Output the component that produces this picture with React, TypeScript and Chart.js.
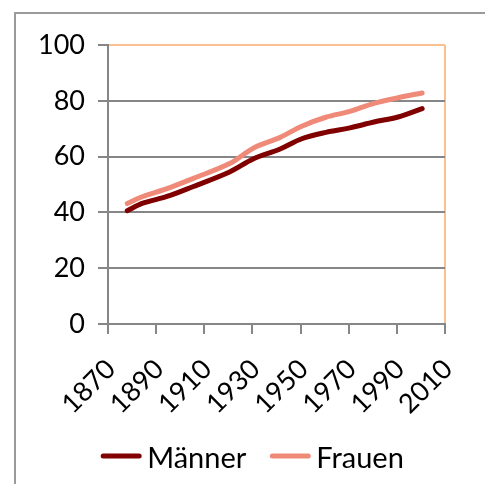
import { useEffect, useRef } from "react";
import { Chart, registerables } from "chart.js";

Chart.register(...registerables);

// Data
const years = [1878, 1884.5, 1894.5, 1905.5, 1920.5, 1930.5, 1941.5, 1950.5, 1960.5, 1970.5, 1980.5, 1990.5, 2000.5];
const maenner = [40.6, 43.3, 45.7, 49.3, 54.5, 59.2, 62.7, 66.4, 68.7, 70.3, 72.4, 74.2, 77.2];
const frauen = [43.2, 45.7, 48.5, 52.2, 57.5, 63.1, 66.9, 70.9, 74.1, 76.2, 79.1, 81.1, 82.8];
const seriesLabels = ["Männer", "Frauen"];
const xTicks = [1870, 1890, 1910, 1930, 1950, 1970, 1990, 2010];
const yTicks = [0, 20, 40, 60, 80, 100];

const FONT = "Lato, 'Open Sans', sans-serif";
const TICK_SIZE = 27;
const LEGEND_SIZE = 29;
const AXIS_GRAY = "#868686";
const PLOT_ORANGE = "#FAC090";

export default function App() {
  const ref = useRef<HTMLCanvasElement>(null);

  useEffect(() => {
    document.body.style.margin = "0";
    const canvas = ref.current;
    if (!canvas) return;

    const outerBorder = {
      id: "outerBorder",
      beforeDraw(chart: any) {
        const ctx = chart.ctx;
        ctx.save();
        ctx.strokeStyle = "#9a9a9a";
        ctx.lineWidth = 2;
        ctx.beginPath();
        ctx.moveTo(15, 500);
        ctx.lineTo(15, 13);
        ctx.lineTo(500, 13);
        ctx.stroke();
        ctx.restore();
      },
    };

    const customLegend = {
      id: "customLegend",
      afterDraw(chart: any) {
        const ctx = chart.ctx;
        ctx.save();
        ctx.font = `${LEGEND_SIZE}px ${FONT}`;
        const seg = 36;
        const gap = 8;
        const between = 26;
        const items = chart.data.datasets.map((ds: any) => ({
          label: ds.label,
          color: ds.borderColor,
          w: ctx.measureText(ds.label).width,
        }));
        const total =
          items.reduce((s: number, it: any) => s + seg + gap + it.w, 0) + between * (items.length - 1);
        let x = 253.5 - total / 2;
        const lineY = 456;
        const textY = 468;
        ctx.lineCap = "round";
        ctx.lineWidth = 5;
        ctx.textBaseline = "alphabetic";
        ctx.textAlign = "left";
        for (const it of items) {
          ctx.strokeStyle = it.color;
          ctx.beginPath();
          ctx.moveTo(x, lineY);
          ctx.lineTo(x + seg, lineY);
          ctx.stroke();
          ctx.fillStyle = "#000";
          ctx.fillText(it.label, x + seg + gap, textY);
          x += seg + gap + it.w + between;
        }
        ctx.restore();
      },
    };

    const chart = new Chart(canvas, {
      type: "line",
      data: {
        datasets: [
          {
            label: seriesLabels[0],
            data: years.map((y, i) => ({ x: y, y: maenner[i] })),
            borderColor: "#800000",
            backgroundColor: "#800000",
            borderWidth: 5,
            borderCapStyle: "round",
            borderJoinStyle: "round",
            pointRadius: 0,
            tension: 0.35,
            fill: false,
          },
          {
            label: seriesLabels[1],
            data: years.map((y, i) => ({ x: y, y: frauen[i] })),
            borderColor: "#F08A78",
            backgroundColor: "#F08A78",
            borderWidth: 5,
            borderCapStyle: "round",
            borderJoinStyle: "round",
            pointRadius: 0,
            tension: 0.35,
            fill: false,
          },
        ],
      },
      options: {
        animation: false,
        responsive: false,
        maintainAspectRatio: false,
        devicePixelRatio: 1,
        layout: { padding: { left: 0, right: 40, top: 45, bottom: 0 } },
        plugins: {
          legend: { display: false },
          tooltip: { enabled: false },
        },
        scales: {
          x: {
            type: "linear",
            min: 1870,
            max: 2010,
            afterBuildTicks: (s: any) => {
              s.ticks = xTicks.map((v) => ({ value: v }));
            },
            afterFit: (s: any) => {
              s.height = 160;
              s.paddingLeft = 0;
              s.paddingRight = 0;
            },
            grid: {
              color: (c: any) => (c.tick && c.tick.value === 2010 ? PLOT_ORANGE : "rgba(0,0,0,0)"),
              tickColor: AXIS_GRAY,
              lineWidth: 2,
              tickLength: 10,
            },
            border: { color: AXIS_GRAY, width: 2 },
            ticks: {
              minRotation: 45,
              maxRotation: 45,
              autoSkip: false,
              padding: 19,
              labelOffset: 3,
              color: "#000",
              font: { family: FONT, size: TICK_SIZE },
              callback: (v: any) => String(v),
            },
          },
          y: {
            min: 0,
            max: 100,
            afterBuildTicks: (s: any) => {
              s.ticks = yTicks.map((v) => ({ value: v }));
            },
            afterFit: (s: any) => {
              s.width = 108;
              s.paddingTop = 0;
              s.paddingBottom = 0;
            },
            grid: {
              color: (c: any) => (c.tick && c.tick.value === 100 ? PLOT_ORANGE : AXIS_GRAY),
              tickColor: AXIS_GRAY,
              lineWidth: 2,
              tickLength: 10,
            },
            border: { color: AXIS_GRAY, width: 2 },
            ticks: {
              padding: 13,
              color: "#000",
              font: { family: FONT, size: TICK_SIZE },
              callback: (v: any) => String(v),
            },
          },
        },
      },
      plugins: [outerBorder, customLegend],
    });

    return () => chart.destroy();
  }, []);

  return (
    <div style={{ position: "fixed", left: 0, top: 0, width: 485, height: 484, background: "#fff" }}>
      <canvas ref={ref} width={485} height={484} style={{ width: 485, height: 484, display: "block" }} />
    </div>
  );
}
